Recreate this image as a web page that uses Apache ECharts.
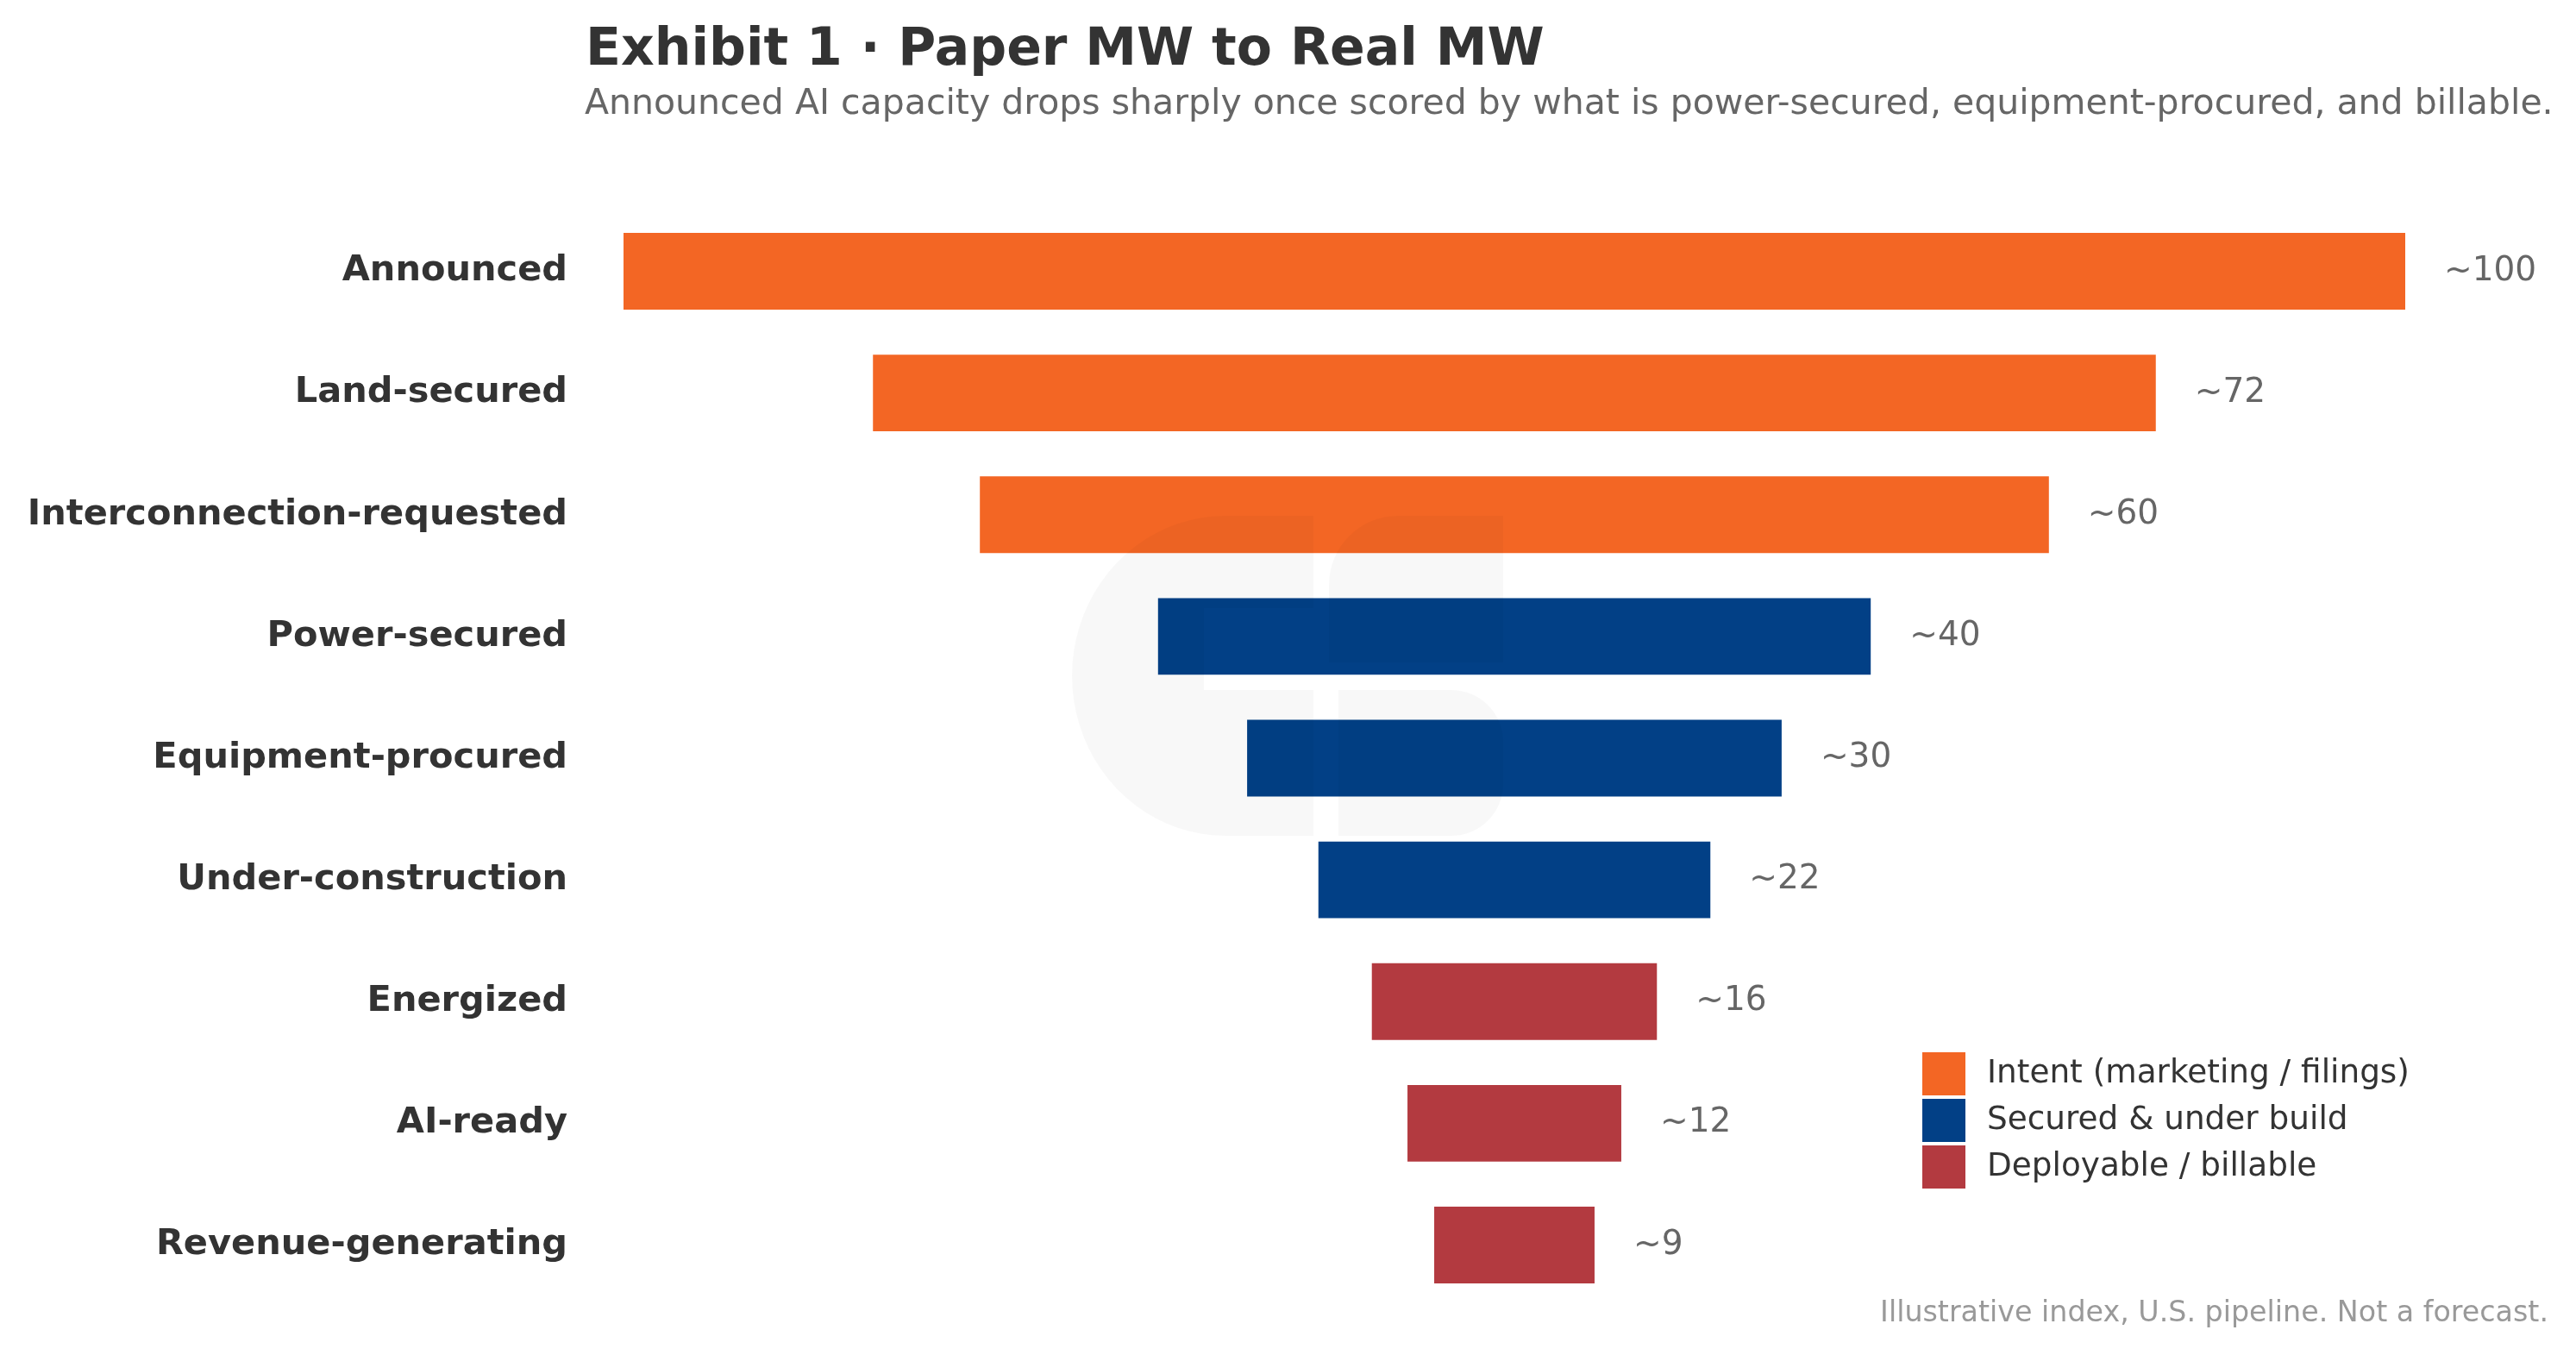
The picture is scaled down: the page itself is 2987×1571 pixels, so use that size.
<!DOCTYPE html>
<html>
<head>
<meta charset="utf-8">
<title>Exhibit 1 · Paper MW to Real MW</title>
<script src="https://cdn.jsdelivr.net/npm/echarts@6/dist/echarts.min.js"></script>
<style>
  html, body { margin: 0; padding: 0; background: #fff; }
  #chart { width: 2987px; height: 1571px; }
</style>
</head>
<body>
<div id="chart"></div>
<script>
  "use strict";

  // stages of the pipeline, top to bottom
  var stages = [
    "Announced",
    "Land-secured",
    "Interconnection-requested",
    "Power-secured",
    "Equipment-procured",
    "Under-construction",
    "Energized",
    "AI-ready",
    "Revenue-generating"
  ];
  // illustrative index (Announced = 100)
  var indexValues = [100, 72, 60, 40, 30, 22, 16, 12, 9];
  // which group each stage belongs to
  var stageGroup = [0, 0, 0, 1, 1, 1, 2, 2, 2];
  var groupNames = ["Intent (marketing / filings)", "Secured & under build", "Deployable / billable"];
  var groupColors = ["#F36624", "#024086", "#B33A40"];

  var FONT = "DejaVu Sans";
  var FULL = 100;
  var MARK = "rgba(0,0,0,0.026)";

  // outline of the left glyph of the watermark: notched block with a rounded back
  function logoLeftPoints() {
    var pts = [[1421, 598], [1523, 598], [1523, 705], [1396, 705], [1396, 800],
      [1523, 800], [1523, 969], [1421, 969]];
    var cx = 1421, cy = 783.5, rx = 178, ry = 185.5;
    for (var k = 1; k < 40; k++) {
      var a = Math.PI / 2 + Math.PI * k / 40;
      pts.push([cx + rx * Math.cos(a), cy + ry * Math.sin(a)]);
    }
    return pts;
  }

  function initChart() {
    var chart = echarts.init(document.getElementById("chart"), null, { renderer: "canvas" });

    // invisible spacer so every bar is centred on the same axis
    var spacer = indexValues.map(function (v) { return (FULL - v) / 2; });

    var series = [{
      name: "spacer",
      type: "bar",
      stack: "funnel",
      silent: true,
      itemStyle: { color: "transparent" },
      data: spacer,
      barCategoryGap: "37%"
    }];

    groupNames.forEach(function (name, g) {
      series.push({
        name: name,
        type: "bar",
        stack: "funnel",
        itemStyle: { color: groupColors[g] },
        data: indexValues.map(function (v, i) { return stageGroup[i] === g ? v : "-"; }),
        label: {
          show: true,
          position: "right",
          distance: 45,
          formatter: function (p) { return "~" + p.value; },
          fontFamily: FONT,
          fontSize: 39,
          color: "#666666"
        }
      });
    });

    var option = {
      backgroundColor: "#ffffff",
      animation: false,
      grid: { left: 723, right: 198, top: 244, bottom: 57, containLabel: false },
      xAxis: {
        type: "value",
        min: 0,
        max: FULL,
        show: false
      },
      yAxis: {
        type: "category",
        inverse: true,
        data: stages,
        axisLine: { show: false },
        axisTick: { show: false },
        splitLine: { show: false },
        axisLabel: {
          margin: 65,
          fontFamily: FONT,
          fontSize: 41.5,
          fontWeight: "bold",
          color: "#333333"
        }
      },
      legend: {
        data: groupNames,
        orient: "vertical",
        left: 2224,
        top: 1215,
        itemWidth: 50,
        itemHeight: 50,
        itemGap: 4,
        icon: "rect",
        selectedMode: false,
        textStyle: {
          fontFamily: FONT,
          fontSize: 37.4,
          color: "#333333",
          padding: [0, 0, 0, 20]
        }
      },
      graphic: [
        // faint logo watermark over the middle of the funnel
        {
          type: "polygon",
          z: 100,
          silent: true,
          shape: { points: logoLeftPoints() },
          style: { fill: MARK }
        },
        {
          type: "rect",
          z: 100,
          silent: true,
          shape: { x: 1541, y: 598, width: 202, height: 170, r: [80, 0, 0, 0] },
          style: { fill: MARK }
        },
        {
          type: "rect",
          z: 100,
          silent: true,
          shape: { x: 1552, y: 800, width: 191, height: 169, r: [0, 60, 60, 0] },
          style: { fill: MARK }
        },
        {
          type: "text",
          left: 679,
          top: 29,
          style: {
            text: "Exhibit 1 · Paper MW to Real MW",
            font: "bold 60px 'DejaVu Sans'",
            fill: "#333333"
          }
        },
        {
          type: "text",
          left: 678,
          top: 101,
          style: {
            text: "Announced AI capacity drops sharply once scored by what is power-secured, equipment-procured, and billable.",
            font: "41px 'DejaVu Sans'",
            fill: "#666666"
          }
        },
        {
          type: "text",
          right: 32,
          top: 1507,
          style: {
            text: "Illustrative index, U.S. pipeline. Not a forecast.",
            font: "33.3px 'DejaVu Sans'",
            fill: "#999999"
          }
        }
      ],
      series: series
    };

    chart.setOption(option);
    return chart;
  }

  initChart();
</script>
</body>
</html>
